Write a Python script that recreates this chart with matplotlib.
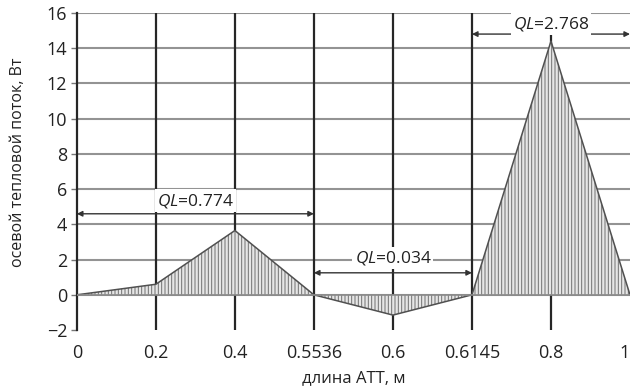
import matplotlib
matplotlib.use("Agg")
import matplotlib.pyplot as plt
import numpy as np

# positions along the heat pipe (m), drawn at equal spacing
x_labels = ["0", "0.2", "0.4", "0.5536", "0.6", "0.6145", "0.8", "1"]
flux = [0.0, 0.6, 3.65, 0.0, -1.15, 0.0, 14.4, 0.0]   # осевой тепловой поток, Вт

y_ticks = [-2, 0, 2, 4, 6, 8, 10, 12, 14, 16]

# QL annotations: (start index, end index, arrow y, text, text x, text y)
ql_spans = [
    (0, 3, 4.6, "0.774", 1.5, 5.35),
    (3, 5, 1.25, "0.034", 4.0, 2.1),
    (5, 7, 14.8, "2.768", 6.0, 15.4),
]

plt.rcParams["font.family"] = ["Open Sans", "DejaVu Sans"]
plt.rcParams["mathtext.fontset"] = "custom"
plt.rcParams["mathtext.it"] = "Open Sans:italic"
plt.rcParams["mathtext.rm"] = "Open Sans"
plt.rcParams["hatch.linewidth"] = 0.7

fig = plt.figure(figsize=(6.3, 3.92), dpi=100)
ax = fig.add_axes([0.122, 0.158, 0.878, 0.809])

xs = np.arange(len(x_labels))
ax.set_xlim(0, len(x_labels) - 1)
ax.set_ylim(-2, 16)

# grid: gray horizontals, dark verticals
for yv in y_ticks[1:]:
    ax.axhline(yv, color="#939393", lw=1.5, zorder=1)
for xv in xs[1:-1]:
    ax.axvline(xv, color="#262626", lw=1.6, zorder=1)

# hatched area under curve
ax.fill_between(xs, flux, 0, facecolor="#e6e6e6", edgecolor="#707070",
                hatch="|||||", lw=0, zorder=2)
ax.plot(xs, flux, color="#505050", lw=1.1, zorder=3)
ax.axhline(0, color="#8a8a8a", lw=1.2, zorder=3)

for x0, x1, ya, val, tx, ty in ql_spans:
    ax.annotate("", xy=(x0, ya), xytext=(x1, ya),
                arrowprops=dict(arrowstyle="<|-|>", color="#333333", lw=1.0,
                                mutation_scale=8, shrinkA=0, shrinkB=0),
                zorder=5)
    ax.text(tx, ty, r"$QL$" + "=" + val, ha="center", va="center",
            fontsize=12.5, color="#222222", zorder=6,
            bbox=dict(facecolor="white", edgecolor="none", pad=1.5))

ax.set_xticks(xs)
ax.set_xticklabels(x_labels)
ax.get_xticklabels()[-1].set_horizontalalignment("right")
ax.set_yticks(y_ticks)
ax.set_yticklabels([("\u2212" + str(-v)) if v < 0 else str(v) for v in y_ticks])
ax.tick_params(axis="x", length=0, labelsize=13, pad=10, colors="#222222")
ax.tick_params(axis="y", length=4, width=1, labelsize=13, pad=3,
               color="#777777", labelcolor="#222222")

for side in ["top", "right", "bottom"]:
    ax.spines[side].set_visible(False)
ax.spines["left"].set_color("#262626")
ax.spines["left"].set_linewidth(1.6)

ax.set_xlabel("длина АТТ, м", fontsize=12, color="#222222", labelpad=6)
ax.set_ylabel("осевой тепловой поток, Вт", fontsize=11.5, color="#222222")
ax.yaxis.set_label_coords(-0.092, 0.53)

fig.savefig("out.png", dpi=100)
